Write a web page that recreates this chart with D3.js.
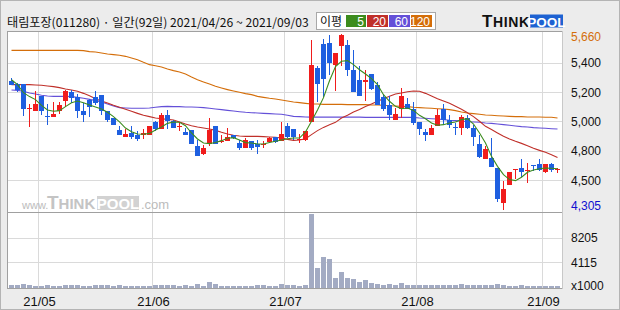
<!DOCTYPE html>
<html><head><meta charset="utf-8">
<script src="https://cdn.jsdelivr.net/npm/d3@7"></script>
<style>html,body{margin:0;padding:0;background:#ececec;} svg{display:block;}</style>
</head><body><svg id="c" width="620" height="310"></svg>
<script>
const titleText = "태림포장(011280) · 일간(92일) 2021/04/26 ~ 2021/09/03";
const legendTitle = "이평";
const legendLabels = ["5", "20", "60", "120"];

const openP = [5295,5275,5275,5080,5070,5185,5025,5020,5065,5145,5215,5175,5065,5150,5175,5190,5065,5010,4920,4865,4900,4885,4880,4885,4985,4930,5035,4990,4945,4905,4920,4795,4735,4815,4950,4835,4840,4880,4820,4780,4840,4815,4805,4830,4865,4835,4950,4930,4845,4845,4985,5395,5585,5590,5420,5565,5575,5380,5305,5290,5350,5265,5175,5110,5000,5080,5120,5080,4985,4905,4880,4950,5085,5000,4945,4940,5015,4935,4815,4700,4705,4630,4360,4500,4615,4630,4605,4655,4660,4595,4660,4610];
const highP = [5320,5285,5275,5120,5220,5185,5120,5135,5135,5230,5230,5195,5130,5160,5220,5190,5065,5015,4950,4930,4950,4910,4925,4950,4990,5050,5075,5000,4980,4940,4920,4845,4805,5015,4950,4885,4940,4885,4845,4860,4840,4845,4835,4870,4870,4980,4975,4930,4890,4915,5610,5410,5620,5650,5515,5660,5615,5540,5410,5380,5350,5290,5195,5180,5090,5245,5165,5135,4985,4925,4960,5080,5120,5035,4975,5035,5035,4960,4885,4795,4860,4630,4530,4595,4620,4700,4665,4655,4700,4660,4670,4630];
const lowP = [5265,5215,5030,4945,5070,5040,4960,5020,5045,5100,5130,5010,4980,5020,5115,5035,4985,4960,4880,4865,4855,4835,4855,4880,4910,4930,4925,4935,4910,4885,4815,4720,4730,4795,4810,4820,4835,4855,4770,4780,4770,4735,4780,4820,4820,4835,4860,4845,4820,4840,4985,5135,5175,5345,5220,5410,5335,5210,5180,5145,5230,5110,5065,5000,5000,5015,5080,4960,4885,4835,4880,4950,4960,4935,4885,4880,4930,4795,4705,4695,4635,4370,4305,4500,4540,4560,4515,4605,4605,4590,4595,4590];
const closeP = [5270,5230,5080,5090,5120,5065,5020,5045,5110,5225,5165,5070,5040,5100,5130,5065,4995,4960,4880,4890,4870,4855,4900,4950,4925,5035,4990,4935,4955,4885,4815,4720,4780,4920,4815,4840,4870,4860,4780,4845,4780,4790,4815,4860,4830,4890,4870,4865,4855,4910,5420,5275,5315,5440,5515,5655,5380,5210,5180,5305,5240,5110,5085,5040,5045,5180,5080,4975,4925,4880,4935,5035,4995,4960,4935,5020,4935,4865,4710,4775,4635,4390,4465,4595,4620,4595,4610,4645,4615,4660,4610,4620];
const volumeK = [330,330,560,380,300,250,350,250,250,330,380,330,300,300,330,330,330,300,330,300,300,250,250,250,330,330,330,330,300,330,300,500,300,900,520,250,250,250,250,300,250,330,330,300,250,560,410,410,250,410,12100,3200,5000,4680,1560,2540,1560,1400,900,1230,790,570,410,570,410,740,410,410,410,410,410,410,410,410,410,570,410,410,410,410,410,570,410,300,300,410,300,300,300,300,300,300];

const ma5 = [5308,5270,5208,5178,5155,5111,5075,5065,5070,5101,5131,5144,5131,5113,5098,5083,5057,5024,4983,4936,4908,4890,4888,4895,4921,4944,4972,4983,4980,4954,4898,4852,4821,4816,4824,4839,4857,4862,4844,4824,4821,4813,4813,4824,4834,4844,4854,4859,4859,4906,4988,5075,5170,5300,5410,5450,5455,5424,5385,5352,5316,5270,5193,5142,5103,5085,5090,5072,5034,5008,4975,4957,4962,4975,4983,5001,5008,4967,4898,4821,4718,4641,4577,4539,4531,4557,4595,4613,4623,4628,4626,4623];
const ma20 = [5270,5270,5270,5270,5267,5265,5260,5255,5247,5237,5229,5219,5203,5185,5162,5144,5129,5111,5096,5080,5065,5049,5034,5024,5013,5008,5003,4998,4983,4967,4954,4944,4936,4929,4918,4903,4890,4880,4875,4872,4872,4872,4870,4867,4865,4859,4849,4841,4844,4854,4885,4916,4941,4962,4980,5013,5034,5060,5078,5101,5121,5142,5162,5180,5198,5206,5216,5221,5219,5203,5183,5162,5144,5126,5103,5080,5054,5024,4988,4949,4924,4898,4872,4852,4834,4818,4800,4780,4764,4749,4731,4710];
const ma60 = [5229,5226,5219,5206,5198,5188,5183,5180,5180,5180,5178,5172,5165,5157,5147,5137,5121,5106,5093,5090,5088,5088,5088,5090,5096,5101,5103,5101,5101,5098,5098,5096,5093,5088,5083,5078,5072,5067,5062,5057,5054,5052,5049,5047,5044,5042,5034,5026,5024,5021,5020,5020,5020,5020,5020,5020,5020,5020,5020,5018,5018,5018,5018,5018,5018,5018,5018,5018,5013,5011,5008,5006,5001,4996,4993,4990,4985,4983,4980,4975,4972,4967,4962,4957,4952,4947,4944,4939,4936,4934,4931,4929];
const ma120 = [5534,5534,5534,5534,5534,5534,5534,5534,5534,5534,5534,5534,5532,5524,5521,5514,5506,5501,5496,5488,5475,5462,5442,5424,5416,5406,5391,5378,5367,5352,5329,5308,5291,5275,5257,5244,5232,5221,5211,5201,5193,5180,5172,5165,5160,5152,5144,5137,5132,5126,5121,5121,5118,5118,5118,5118,5116,5116,5116,5116,5113,5113,5111,5108,5106,5103,5101,5096,5093,5090,5088,5085,5083,5078,5070,5060,5052,5047,5042,5036,5034,5031,5029,5026,5024,5024,5021,5021,5021,5019,5019,5013];

const monthStartIdx = [5, 24, 46, 68, 89];
const monthLabels = ["21/05", "21/06", "21/07", "21/08", "21/09"];
const priceGridValues = [5439, 5213, 4988, 4762, 4534];
const priceGridLabels = ["5,400", "5,200", "5,000", "4,800", "4,500"];
const volGridValues = [8205, 4115];
const volGridLabels = ["8205", "4115"];
const volUnitLabel = "x1000";

const C = {
  bg: "#ececec", grid: "#dadada", frame: "#a0a0a0",
  up: "#f01c1c", down: "#1e5fe0", vol: "#a3abc3",
  ma: ["#3c8c1e", "#c0302a", "#6450d8", "#d46e0a"]
};

const svg = d3.select("#c");
const L = 8, R = 562, PT = 31, PB = 212, VB = 288;
const n = closeP.length;
const x = d3.scaleBand().domain(d3.range(n)).range([8, 8 + 6 * n]);
const cx = i => x(i) + 3.5;
const y = d3.scaleLinear().domain([d3.min(lowP), d3.max(highP)]).range([210, 34]);
const yv = d3.scaleLinear().domain([0, 12310]).range([287.5, 212.5]);

svg.append("rect").attr("width", 620).attr("height", 310).attr("fill", C.bg);
svg.append("rect").attr("x", 0.5).attr("y", 0.5).attr("width", 619).attr("height", 309)
  .attr("fill", "none").attr("stroke", "#b4b4b4");
svg.append("rect").attr("x", L).attr("y", PT).attr("width", R - L).attr("height", VB - PT).attr("fill", "#fff");

const g = svg.append("g").attr("shape-rendering", "crispEdges");
priceGridValues.forEach(v => g.append("line").attr("x1", L).attr("x2", R)
  .attr("y1", Math.round(y(v)) + 0.5).attr("y2", Math.round(y(v)) + 0.5).attr("stroke", C.grid));
volGridValues.forEach(v => g.append("line").attr("x1", L).attr("x2", R)
  .attr("y1", Math.round(yv(v)) + 0.5).attr("y2", Math.round(yv(v)) + 0.5).attr("stroke", C.grid));
monthStartIdx.forEach(i => g.append("line").attr("x1", x(i) + 0.5).attr("x2", x(i) + 0.5)
  .attr("y1", PT).attr("y2", VB).attr("stroke", C.grid));

// watermark
const wm = svg.append("g");
wm.append("text").attr("x", 22).attr("y", 209).attr("font-family", "Liberation Sans, Arial")
  .attr("font-size", 11).attr("fill", "#bcbcbc").text("www.");
const wt = wm.append("text").attr("x", 47).attr("y", 209).attr("font-family", "Liberation Sans, Arial")
  .attr("font-weight", "bold").attr("fill", "#c4c4c4");
wt.append("tspan").attr("font-size", 19).text("T");
wt.append("tspan").attr("font-size", 15).text("HINK");
wm.append("rect").attr("x", 97).attr("y", 196).attr("width", 42).attr("height", 14).attr("fill", "#d2d2d2");
wm.append("text").attr("x", 118).attr("y", 209).attr("text-anchor", "middle").attr("font-family", "Liberation Sans, Arial")
  .attr("font-weight", "bold").attr("font-size", 15).attr("fill", "#fff").text("POOL");
wm.append("text").attr("x", 141).attr("y", 209).attr("font-family", "Liberation Sans, Arial")
  .attr("font-size", 13).attr("fill", "#bcbcbc").text(".com");

// volume
g.selectAll("rect.v").data(volumeK).join("rect").attr("class", "v")
  .attr("x", (d, i) => x(i) + 1).attr("width", 5)
  .attr("y", d => Math.round(yv(d))).attr("height", d => Math.max(1, 288 - Math.round(yv(d))))
  .attr("fill", C.vol);

// MAs
const line = d3.line().x((d, i) => cx(i)).y(d => y(d));
[ma120, ma60, ma20].forEach((arr, k) => {
  svg.append("path").datum(arr).attr("d", line).attr("fill", "none")
    .attr("stroke", C.ma[3 - k]).attr("stroke-width", 1.1);
});

// candles
const cg = svg.append("g").attr("shape-rendering", "crispEdges");
d3.range(n).forEach(i => {
  const o = openP[i], c = closeP[i];
  const col = c >= o ? C.up : C.down;
  cg.append("line").attr("x1", cx(i)).attr("x2", cx(i))
    .attr("y1", y(highP[i])).attr("y2", y(lowP[i])).attr("stroke", col);
  const top = y(Math.max(o, c)), bot = y(Math.min(o, c));
  cg.append("rect").attr("x", x(i) + 1).attr("width", 5)
    .attr("y", top).attr("height", Math.max(1, bot - top)).attr("fill", col);
});
svg.append("path").datum(ma5).attr("d", line).attr("fill", "none")
  .attr("stroke", C.ma[0]).attr("stroke-width", 1.1);

// frame
const f = svg.append("g").attr("shape-rendering", "crispEdges").attr("stroke", C.frame);
f.append("line").attr("x1", 7).attr("x2", R + 1).attr("y1", PT + 0.5).attr("y2", PT + 0.5);
f.append("line").attr("x1", 7.5).attr("x2", 7.5).attr("y1", PT).attr("y2", VB + 1);
f.append("line").attr("x1", 7).attr("x2", R + 1).attr("y1", PB + 0.5).attr("y2", PB + 0.5);
f.append("line").attr("x1", 7).attr("x2", R + 1).attr("y1", VB + 0.5).attr("y2", VB + 0.5);
f.append("line").attr("x1", R + 0.5).attr("x2", R + 0.5).attr("y1", PT).attr("y2", VB + 1).attr("stroke", "#c8c8c8");

// axis labels
const ax = svg.append("g").attr("font-family", "Liberation Sans, Arial").attr("font-size", 12);
priceGridValues.forEach((v, k) => ax.append("text").attr("x", 571).attr("y", y(v) + 1.5)
  .attr("dominant-baseline", "middle").attr("fill", "#111").text(priceGridLabels[k]));
ax.append("text").attr("x", 571).attr("y", y(d3.max(highP)) + 4).attr("dominant-baseline", "middle")
  .attr("fill", C.ma[3]).text(d3.format(",")(d3.max(highP)));
ax.append("text").attr("x", 571).attr("y", y(d3.min(lowP)) - 3).attr("dominant-baseline", "middle")
  .attr("fill", "#1010d0").text(d3.format(",")(d3.min(lowP)));
volGridValues.forEach((v, k) => ax.append("text").attr("x", 571).attr("y", yv(v) + 1)
  .attr("dominant-baseline", "middle").attr("fill", "#111").text(volGridLabels[k]));
ax.append("text").attr("x", 571).attr("y", 286.5).attr("dominant-baseline", "middle")
  .attr("fill", "#111").text(volUnitLabel);
monthStartIdx.forEach((i, k) => ax.append("text").attr("x", x(i) + 1.5).attr("y", 306)
  .attr("text-anchor", "middle").attr("font-size", 13).attr("fill", "#111").text(monthLabels[k]));

// title: size chosen so the natural width is ~302px
const tt = svg.append("text").attr("x", 7).attr("y", 27).attr("font-family", "Noto Sans CJK KR, sans-serif")
  .attr("font-size", 13).attr("fill", "#111").text(titleText);
const tw = tt.node().getComputedTextLength();
if (tw > 0) tt.attr("font-size", (13 * 302 / tw).toFixed(2));

// legend
const lg = svg.append("g");
lg.append("rect").attr("x", 316.5).attr("y", 12.5).attr("width", 119).attr("height", 17)
  .attr("fill", "#fff").attr("stroke", "#a8a8a8");
lg.append("text").attr("x", 320).attr("y", 25.5).attr("font-family", "Noto Sans CJK KR, sans-serif")
  .attr("font-size", 12).attr("fill", "#111").text(legendTitle);
const bx = [346, 367, 389, 411], bw = [20, 21, 21, 21];
legendLabels.forEach((t, k) => {
  lg.append("rect").attr("x", bx[k]).attr("y", 15).attr("width", bw[k]).attr("height", 12).attr("fill", C.ma[k]);
  lg.append("text").attr("x", bx[k] + bw[k] - 2).attr("y", 25.5).attr("text-anchor", "end")
    .attr("font-family", "Liberation Sans, Arial").attr("font-size", 12).attr("fill", "#fff").text(t);
});

// logo
const lo = svg.append("g");
const lt = lo.append("text").attr("x", 482).attr("y", 27).attr("font-family", "Liberation Sans, Arial")
  .attr("font-weight", "bold").attr("fill", "#111").attr("letter-spacing", 0.6);
lt.append("tspan").attr("font-size", 17).text("T");
lt.append("tspan").attr("font-size", 14).text("HINK");
lo.append("rect").attr("x", 530).attr("y", 14.5).attr("width", 33).attr("height", 13).attr("fill", "#1d62d2");
lo.append("text").attr("x", 546.5).attr("y", 26.5).attr("text-anchor", "middle").attr("font-family", "Liberation Sans, Arial")
  .attr("font-weight", "bold").attr("font-size", 13.5).attr("fill", "#fff").text("POOL");
</script></body></html>
